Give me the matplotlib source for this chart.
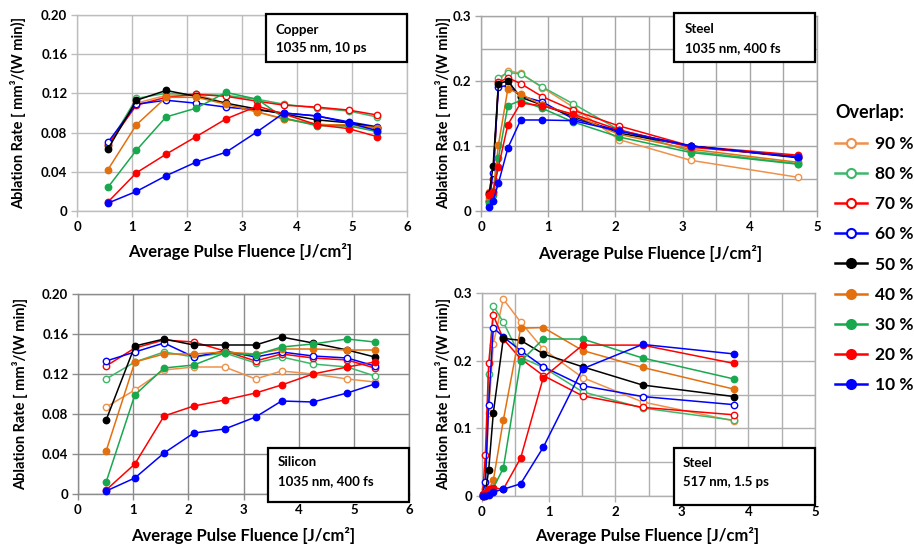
import matplotlib
matplotlib.use("Agg")
import matplotlib.pyplot as plt
from matplotlib.ticker import MultipleLocator, FuncFormatter
from matplotlib.lines import Line2D
from matplotlib.patches import Rectangle

plt.rcParams['font.family'] = ['Lato', 'DejaVu Sans']
plt.rcParams['font.weight'] = 'bold'

W, H = 914, 544

# series order: 90 % ... 10 % overlap
overlaps = ['90 %', '80 %', '70 %', '60 %', '50 %', '40 %', '30 %', '20 %', '10 %']
colors = ['#F0914A', '#3DB86A', '#FF0000', '#0000FF', '#000000',
          '#E2700F', '#18A84E', '#FF0000', '#0000FF']
hollow = [True, True, True, True, False, False, False, False, False]

# Copper, 1035 nm, 10 ps
cu_x = [0.56, 1.08, 1.62, 2.17, 2.71, 3.28, 3.76, 4.36, 4.94, 5.45]
cu_90 = [0.068, 0.110, 0.118, 0.119, 0.110, 0.101, 0.094, 0.089, 0.086, 0.084]
cu_80 = [0.066, 0.115, 0.120, 0.119, 0.118, 0.114, 0.109, 0.105, 0.102, 0.096]
cu_70 = [0.067, 0.108, 0.116, 0.119, 0.117, 0.112, 0.108, 0.106, 0.103, 0.098]
cu_60 = [0.070, 0.109, 0.113, 0.110, 0.106, 0.103, 0.100, 0.097, 0.091, 0.086]
cu_50 = [0.063, 0.113, 0.123, 0.117, 0.110, 0.104, 0.099, 0.093, 0.090, 0.085]
cu_40 = [0.042, 0.088, 0.116, 0.116, 0.109, 0.101, 0.094, 0.088, 0.088, 0.085]
cu_30 = [0.024, 0.062, 0.096, 0.105, 0.121, 0.114, 0.095, 0.087, 0.087, 0.081]
cu_20 = [0.009, 0.039, 0.058, 0.076, 0.094, 0.107, 0.099, 0.088, 0.084, 0.076]
cu_10 = [0.008, 0.020, 0.036, 0.050, 0.060, 0.081, 0.100, 0.097, 0.090, 0.082]

# Steel, 1035 nm, 400 fs
s4_x = [0.12, 0.18, 0.26, 0.40, 0.59, 0.91, 1.37, 2.05, 3.12, 4.71]
s4_90 = [0.030, 0.050, 0.200, 0.216, 0.212, 0.190, 0.160, 0.110, 0.078, 0.052]
s4_80 = [0.015, 0.040, 0.205, 0.213, 0.211, 0.191, 0.165, 0.125, 0.092, 0.073]
s4_70 = [0.028, 0.050, 0.198, 0.205, 0.196, 0.176, 0.155, 0.131, 0.100, 0.086]
s4_60 = [0.015, 0.059, 0.191, 0.193, 0.177, 0.168, 0.142, 0.124, 0.100, 0.083]
s4_50 = [0.026, 0.069, 0.196, 0.200, 0.175, 0.163, 0.146, 0.120, 0.100, 0.082]
s4_40 = [0.020, 0.030, 0.102, 0.188, 0.180, 0.163, 0.148, 0.118, 0.095, 0.075]
s4_30 = [0.012, 0.025, 0.082, 0.162, 0.170, 0.158, 0.137, 0.114, 0.090, 0.072]
s4_20 = [0.025, 0.030, 0.068, 0.133, 0.166, 0.162, 0.149, 0.125, 0.098, 0.084]
s4_10 = [0.006, 0.016, 0.043, 0.097, 0.140, 0.140, 0.139, 0.123, 0.100, 0.083]

# Silicon, 1035 nm, 400 fs
si_x = [0.51, 1.03, 1.56, 2.10, 2.66, 3.22, 3.69, 4.26, 4.88, 5.38]
si_90 = [0.087, 0.104, 0.124, 0.127, 0.127, 0.115, 0.123, 0.120, 0.115, 0.112]
si_80 = [0.115, 0.132, 0.142, 0.137, 0.141, 0.131, 0.137, 0.130, 0.127, 0.118]
si_70 = [0.128, 0.146, 0.154, 0.152, 0.143, 0.133, 0.140, 0.136, 0.134, 0.126]
si_60 = [0.133, 0.142, 0.151, 0.137, 0.143, 0.137, 0.142, 0.138, 0.136, 0.128]
si_50 = [0.074, 0.148, 0.155, 0.149, 0.149, 0.149, 0.157, 0.151, 0.144, 0.137]
si_40 = [0.043, 0.132, 0.140, 0.140, 0.142, 0.140, 0.145, 0.145, 0.144, 0.144]
si_30 = [0.012, 0.099, 0.126, 0.129, 0.141, 0.139, 0.147, 0.150, 0.155, 0.152]
si_20 = [0.004, 0.030, 0.078, 0.088, 0.094, 0.101, 0.109, 0.120, 0.127, 0.132]
si_10 = [0.003, 0.016, 0.041, 0.061, 0.065, 0.077, 0.093, 0.092, 0.101, 0.110]

# Steel, 517 nm, 1.5 ps
s5_x = [0.01, 0.05, 0.10, 0.17, 0.32, 0.58, 0.92, 1.51, 2.41, 3.78]
s5_90 = [0.002, 0.010, 0.123, 0.225, 0.291, 0.257, 0.217, 0.175, 0.139, 0.111]
s5_80 = [0.002, 0.010, 0.181, 0.281, 0.257, 0.205, 0.190, 0.154, 0.130, 0.112]
s5_70 = [0.003, 0.060, 0.196, 0.267, 0.232, 0.203, 0.178, 0.148, 0.131, 0.120]
s5_60 = [0.002, 0.021, 0.135, 0.249, 0.235, 0.215, 0.191, 0.163, 0.147, 0.135]
s5_50 = [0.000, 0.005, 0.038, 0.123, 0.233, 0.230, 0.210, 0.191, 0.164, 0.147]
s5_40 = [0.000, 0.004, 0.010, 0.023, 0.112, 0.248, 0.249, 0.215, 0.190, 0.158]
s5_30 = [0.000, 0.003, 0.008, 0.012, 0.041, 0.199, 0.232, 0.232, 0.204, 0.173]
s5_20 = [0.000, 0.005, 0.011, 0.012, 0.010, 0.056, 0.175, 0.223, 0.223, 0.196]
s5_10 = [0.000, 0.000, 0.002, 0.006, 0.010, 0.018, 0.072, 0.188, 0.224, 0.210]

fig = plt.figure(figsize=(W / 100, H / 100), dpi=100)


def px_rect(x0, y0, x1, y1):
    return [x0 / W, 1 - y1 / H, (x1 - x0) / W, (y1 - y0) / H]


def fmt_y(v, pos, digits):
    if abs(v) < 1e-9:
        return '0'
    return f'{v:.{digits}f}'


def draw_panel(rect, x, series, xmax, xminor, ymax, ymajor, yminor, digits, grid_color):
    ax = fig.add_axes(rect)
    for ys, col, hol in zip(series, colors, hollow):
        ax.plot(x, ys, color=col, lw=1.1, marker='o', ms=4.6,
                mfc='white' if hol else col, mec=col, mew=1.0, zorder=3,
                clip_on=False)
    ax.set_xlim(0, xmax)
    ax.set_ylim(0, ymax)
    ax.xaxis.set_major_locator(MultipleLocator(1))
    ax.yaxis.set_major_locator(MultipleLocator(ymajor))
    if xminor:
        ax.xaxis.set_minor_locator(MultipleLocator(xminor))
    if yminor:
        ax.yaxis.set_minor_locator(MultipleLocator(yminor))
    ax.yaxis.set_major_formatter(FuncFormatter(lambda v, p: fmt_y(v, p, digits)))
    ax.grid(which='both', color=grid_color, lw=1.0, zorder=0)
    ax.set_axisbelow(True)
    for sp in ax.spines.values():
        sp.set_color(grid_color)
        sp.set_linewidth(1.0)
    ax.tick_params(which='major', length=4, width=1, color=grid_color,
                   labelsize=9.5, pad=3)
    ax.tick_params(which='minor', length=0)
    for lab in ax.get_xticklabels() + ax.get_yticklabels():
        lab.set_fontweight('bold')
    return ax


def label_box(x0, y0, x1, y1, line1, line2, tx, ty1, ty2):
    fig.patches.append(Rectangle((x0 / W, 1 - y1 / H), (x1 - x0) / W, (y1 - y0) / H,
                                 transform=fig.transFigure, facecolor='white',
                                 edgecolor='black', lw=1.6, zorder=5))
    fig.text(tx / W, 1 - ty1 / H, line1, fontsize=9.5, fontweight='bold',
             va='center', ha='left', zorder=6)
    fig.text(tx / W, 1 - ty2 / H, line2, fontsize=9.5, fontweight='bold',
             va='center', ha='left', zorder=6)


def axis_labels(xl_x, xl_y, yl_x, yl_y):
    fig.text(xl_x / W, 1 - xl_y / H, 'Average Pulse Fluence [J/cm²]',
             fontsize=12, fontweight='bold', ha='center', va='center')
    fig.text(yl_x / W, 1 - yl_y / H, 'Ablation Rate [ mm³/(W min)]',
             fontsize=10.5, fontweight='bold', ha='center', va='center', rotation=90)


draw_panel(px_rect(77, 15, 407, 211), cu_x,
           [cu_90, cu_80, cu_70, cu_60, cu_50, cu_40, cu_30, cu_20, cu_10],
           6, None, 0.2, 0.04, None, 2, '#BDBDBD')
draw_panel(px_rect(481, 16, 817, 211), s4_x,
           [s4_90, s4_80, s4_70, s4_60, s4_50, s4_40, s4_30, s4_20, s4_10],
           5, 0.5, 0.3, 0.1, 0.05, 1, '#A6A6A6')
draw_panel(px_rect(78, 294, 409, 494), si_x,
           [si_90, si_80, si_70, si_60, si_50, si_40, si_30, si_20, si_10],
           6, None, 0.2, 0.04, None, 2, '#8C8C8C')
draw_panel(px_rect(482, 293, 815, 496), s5_x,
           [s5_90, s5_80, s5_70, s5_60, s5_50, s5_40, s5_30, s5_20, s5_10],
           5, 0.5, 0.3, 0.1, 0.05, 1, '#B0B0B0')

axis_labels(240, 252, 18, 113)
axis_labels(650, 253, 443, 113)
axis_labels(243, 535, 20, 394)
axis_labels(647, 535, 443, 394)

label_box(266, 14, 407, 62, 'Copper', '1035 nm, 10 ps', 276, 30, 48)
label_box(674, 13, 815, 62, 'Steel', '1035 nm, 400 fs', 685, 29, 48)
label_box(268, 448, 409, 502, 'Silicon', '1035 nm, 400 fs', 278, 462, 481)
label_box(674, 448, 815, 505, 'Steel', '517 nm, 1.5 ps', 683, 463, 482)

# legend
handles = [Line2D([], [], color=c, lw=1.8, marker='o', ms=6.5,
                  mfc='white' if h else c, mec=c, mew=1.5)
           for c, h in zip(colors, hollow)]
leg = fig.legend(handles, overlaps, loc='upper left',
                 bbox_to_anchor=(835 / W, 1 - 104 / H), frameon=False,
                 title='Overlap:', alignment='left', fontsize=12.5,
                 title_fontproperties={'weight': 'bold', 'size': 13},
                 handlelength=1.85, handletextpad=0.45, labelspacing=0.81,
                 borderaxespad=0, borderpad=0)
leg._legend_box.sep = 11
for t in leg.get_texts():
    t.set_fontweight('bold')

fig.savefig('out.png', dpi=100)
